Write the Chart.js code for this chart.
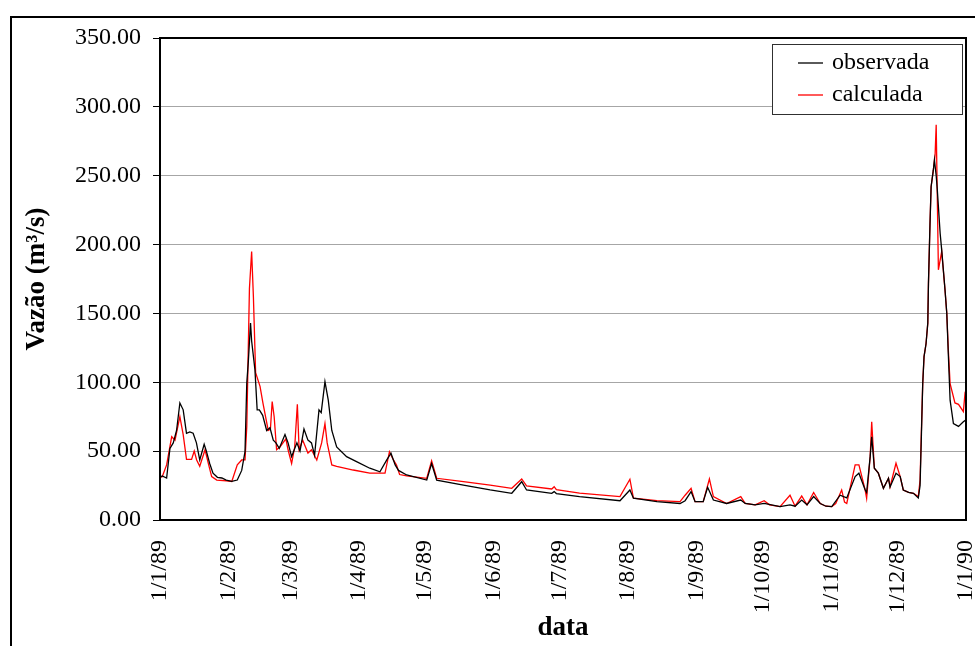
<!DOCTYPE html>
<html lang="pt">
<head>
<meta charset="utf-8">
<title>Vazão observada e calculada - 1989</title>
<script src="https://cdn.jsdelivr.net/npm/chart.js@4.4.1/dist/chart.umd.min.js"></script>
<style>
    html, body { margin: 0; padding: 0; background: #ffffff; }
    #grafico { display: block; }
</style>
</head>
<body>
<canvas id="grafico" width="975" height="646"></canvas>
<script>
const FONTE = "'Liberation Serif', 'Times New Roman', serif";

// dias contados a partir de 1/1/89
const diasMes = [0, 31, 59, 90, 120, 151, 181, 212, 243, 273, 304, 334, 365];
const rotulosMes = ['1/1/89', '1/2/89', '1/3/89', '1/4/89', '1/5/89', '1/6/89', '1/7/89',
    '1/8/89', '1/9/89', '1/10/89', '1/11/89', '1/12/89', '1/1/90'];
const ticksVazao = [0, 50, 100, 150, 200, 250, 300, 350];

const obsDia = [0, 1, 3, 4.5, 6, 7.5, 9, 10.5, 12, 13.5, 15, 16.5, 18, 20, 21, 22.5, 24, 26, 28, 30,
    32.5, 35, 37, 38.5, 39.3, 40, 41, 41.5, 43, 44, 45, 46.5, 48.3, 49.8, 51.3, 52.5, 54, 56.6, 58, 59.6,
    62, 63.4, 65.2, 67, 68.6, 70, 72, 73, 74.7, 76.2, 77.8, 80, 84.5, 89, 95, 99.6, 102.7, 104.6, 106.5, 108,
    111.7, 120.8, 123, 125.3, 137.4, 149.5, 159.3, 163.8, 166, 177.4, 178.5, 179.5, 190, 208.3, 212.8, 214.4, 225, 235.5, 237.8, 240.5,
    242.3, 246, 248, 250.6, 256.6, 263, 265, 269.5, 273.6, 280.8, 285.3, 287.6, 290.6, 293, 296, 299, 301.6, 304.2, 308, 311,
    314.8, 316.5, 319.3, 320, 321.6, 322.3, 323.5, 325.3, 327.6, 329.9, 330.6, 333.3, 335.2, 336.6, 339, 341.2, 343.4, 344.2, 344.7, 345.4,
    346, 346.9, 347.7, 348, 348.7, 349.2, 350.2, 350.7, 351.5, 352, 353.3, 354, 355.5, 356.3, 357, 357.8, 359.3, 361.6, 363.8, 365];
const obsVazao = [31, 32, 30.5, 52, 56, 65, 85, 80, 63, 64, 63, 56, 43.6, 55, 50, 41, 34, 31, 30.5, 29,
    28, 29, 36, 49.6, 99.6, 115, 143, 130, 109, 80, 80, 76, 65, 67, 58, 56, 52, 62, 56, 46,
    56, 50, 66, 58, 56, 47, 80, 78, 100.5, 87, 65, 53, 46, 42.4, 37.6, 35, 43.6, 48.5, 40, 36,
    32.7, 29, 41, 29, 25.4, 21.8, 19.4, 27.8, 21.8, 19.4, 20.6, 19.2, 17, 14, 21.8, 15.8, 13.3, 12, 14, 20.6,
    13.3, 13.3, 23.8, 14.5, 12, 14.5, 12, 11, 12, 9.7, 11, 10, 14.5, 11, 17, 12, 10, 9.7, 18, 16,
    31.5, 34, 22, 20, 46, 60.5, 37.6, 34, 23, 30.3, 24, 34, 31.5, 21.8, 20, 19.4, 16, 25, 55, 99,
    118.7, 128, 143, 172, 215, 242, 254, 261.6, 250, 240, 208, 196, 167, 150, 120, 87, 70, 68, 71.4, 72.7];

const calcDia = [0, 1, 3, 5.3, 6.8, 9, 10.5, 12, 14.3, 15.5, 16.6, 18, 20.4, 21.9, 23.4, 25.7, 30, 32.5, 35, 37,
    38.5, 39.3, 40.5, 41.5, 42.3, 43.3, 45.3, 46.6, 49, 50, 50.8, 51.7, 52.8, 54.3, 57, 58, 59.6, 61, 62.2, 63,
    64.6, 67, 68.6, 71, 73.2, 74.7, 75.7, 77.8, 80, 87.5, 95, 101.9, 103.9, 105.7, 107.1, 108.5, 111.7, 120.8, 123, 125.3,
    137.4, 149.5, 159.3, 163.8, 166, 177.4, 178.5, 179.5, 190, 208.3, 212.8, 214.4, 225, 235.5, 237.8, 240.5, 242.3, 246, 248.8, 250.6,
    256.6, 263, 265, 269.5, 273.6, 276, 280.8, 285.3, 287.6, 290.6, 293, 296, 299, 301.6, 304.2, 306, 308.7, 310, 311, 314.8,
    316.5, 319.3, 320, 321.6, 322.3, 323.5, 325.3, 327.6, 329.9, 330.6, 333.3, 335.2, 336.6, 339, 341.2, 343.4, 344.2, 344.7, 345.4, 346,
    346.9, 347.7, 348, 348.7, 349.2, 350.2, 351, 351.5, 352, 352.5, 354, 355.5, 356.3, 357, 357.8, 360, 361.6, 363.8, 364.5, 365];
const calcVazao = [31, 31.5, 40, 60.5, 58, 75, 62, 44, 44, 50, 43.6, 39, 51, 41, 31.5, 29, 28.5, 28, 40, 43.6,
    43.6, 68, 168, 195, 162, 107, 97, 85, 65, 66, 86, 75, 51, 53, 59, 51, 41, 53, 84, 51,
    58, 48.6, 51, 43.6, 56, 70, 56, 40, 39, 36.3, 34, 34, 49.6, 43.6, 40, 33, 32, 30.3, 43, 30.3,
    27.8, 25.4, 23, 29.8, 24.7, 22.5, 24.2, 22, 19.5, 17, 29.6, 15.8, 14, 13.3, 18, 23, 13.3, 13.3, 29.8, 17,
    12, 17, 12, 11, 14, 11, 9.7, 18, 10, 17.4, 11, 20, 12, 10, 9.7, 12, 21.8, 13, 12, 40,
    40, 22, 15.8, 46, 71.4, 37.6, 34, 23, 30.3, 24, 41.2, 31.5, 21.8, 20, 19.4, 17, 29, 59, 99, 118.7,
    128, 143, 172, 215.6, 242, 254, 265, 287, 235, 181.7, 195, 167, 150, 123.5, 99, 85, 84, 78.7, 91, 88];

function montarPontos(dias, valores) {
    return dias.map((d, i) => ({ x: d, y: valores[i] }));
}

// moldura externa, borda da área do gráfico e legenda dentro do gráfico
const pluginMoldura = {
    id: 'moldura',
    beforeDraw(chart) {
        const ctx = chart.ctx;
        ctx.save();
        ctx.fillStyle = '#ffffff';
        ctx.fillRect(0, 0, chart.width, chart.height);
        ctx.strokeStyle = '#000000';
        ctx.lineWidth = 2;
        ctx.beginPath();
        ctx.moveTo(11, chart.height + 2);
        ctx.lineTo(11, 17);
        ctx.lineTo(chart.width + 2, 17);
        ctx.stroke();
        ctx.restore();
    },
    afterDraw(chart) {
        const ctx = chart.ctx;
        const area = chart.chartArea;
        ctx.save();
        ctx.strokeStyle = '#000000';
        ctx.lineWidth = 2;
        ctx.strokeRect(area.left, area.top, area.right - area.left, area.bottom - area.top);

        // legenda
        const caixa = { x: 772, y: 44, w: 190, h: 70 };
        ctx.fillStyle = '#ffffff';
        ctx.fillRect(caixa.x, caixa.y, caixa.w, caixa.h);
        ctx.lineWidth = 1;
        ctx.strokeStyle = '#303030';
        ctx.strokeRect(caixa.x + 0.5, caixa.y + 0.5, caixa.w, caixa.h);
        ctx.font = '24px ' + FONTE;
        ctx.textBaseline = 'middle';
        chart.data.datasets.forEach((ds, i) => {
            const y = 63 + i * 32;
            ctx.strokeStyle = ds.borderColor;
            ctx.lineWidth = 1.3;
            ctx.beginPath();
            ctx.moveTo(798, y);
            ctx.lineTo(823, y);
            ctx.stroke();
            ctx.fillStyle = '#000000';
            ctx.fillText(ds.label, 832, y);
        });
        ctx.restore();
    }
};

new Chart(document.getElementById('grafico'), {
    type: 'line',
    data: {
        datasets: [
            {
                label: 'observada',
                data: montarPontos(obsDia, obsVazao),
                borderColor: '#000000',
                borderWidth: 1.3
            },
            {
                label: 'calculada',
                data: montarPontos(calcDia, calcVazao),
                borderColor: '#ff0000',
                borderWidth: 1.3
            }
        ]
    },
    options: {
        responsive: false,
        animation: false,
        devicePixelRatio: 1,
        layout: { padding: { left: 10, top: 38, right: 9, bottom: 0 } },
        elements: { point: { radius: 0 }, line: { tension: 0 } },
        plugins: {
            legend: { display: false },
            tooltip: { enabled: false }
        },
        scales: {
            x: {
                type: 'linear',
                min: 0,
                max: 365,
                grid: { display: false, drawTicks: false },
                border: { display: false },
                afterBuildTicks: scale => {
                    scale.ticks = diasMes.map(v => ({ value: v }));
                },
                afterFit: scale => {
                    scale.height = 126;
                    scale.paddingLeft = 0;
                    scale.paddingRight = 0;
                },
                ticks: {
                    autoSkip: false,
                    minRotation: 90,
                    maxRotation: 90,
                    padding: 20,
                    color: '#000000',
                    font: { family: FONTE, size: 24 },
                    callback: (valor, i) => rotulosMes[i]
                },
                title: {
                    display: true,
                    text: 'data',
                    color: '#000000',
                    font: { family: FONTE, size: 27, weight: 'bold', lineHeight: 1 },
                    padding: { top: 0, bottom: 4 }
                }
            },
            y: {
                min: 0,
                max: 350,
                grid: {
                    color: ctx => (ctx.tick && (ctx.tick.value === 0 || ctx.tick.value === 350)) ? 'rgba(0,0,0,0)' : '#a6a6a6',
                    lineWidth: 1,
                    tickColor: '#000000',
                    tickLength: 7
                },
                border: { display: false },
                afterBuildTicks: scale => {
                    scale.ticks = ticksVazao.map(v => ({ value: v }));
                },
                afterFit: scale => {
                    scale.width = 150;
                    scale.paddingTop = 0;
                    scale.paddingBottom = 0;
                },
                ticks: {
                    padding: 12,
                    color: '#000000',
                    font: { family: FONTE, size: 24 },
                    callback: valor => valor.toFixed(2)
                },
                title: {
                    display: true,
                    text: 'Vazão (m³/s)',
                    color: '#000000',
                    font: { family: FONTE, size: 27, weight: 'bold', lineHeight: 1 },
                    padding: { top: 14, bottom: 0 }
                }
            }
        }
    },
    plugins: [pluginMoldura]
});
</script>
</body>
</html>
